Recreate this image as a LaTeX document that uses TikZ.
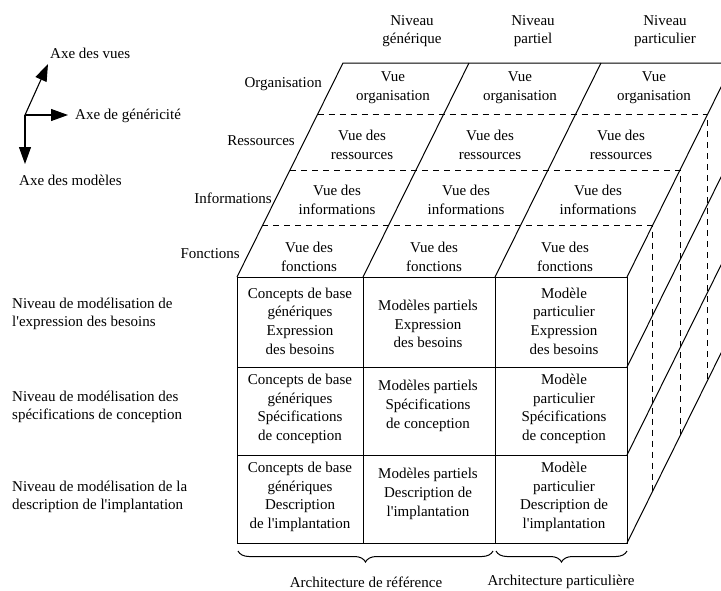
\documentclass[tikz,border=0pt]{standalone}
\usepackage{fontspec}
\setmainfont{Liberation Serif}
\usetikzlibrary{arrows.meta,decorations.pathreplacing}

\begin{document}
\begin{tikzpicture}[x=1pt,y=-1pt,
texte/.style={font=\fontsize{15}{18.7}\selectfont,align=center,inner sep=0pt},
gauche/.style={texte,align=left,anchor=west},
droite/.style={texte,anchor=east},
axe/.style={line width=1.1pt,-{Triangle[length=17pt,width=12pt]}},
trait/.style={line width=1pt},
cache/.style={line width=0.9pt,dash pattern=on 6pt off 5pt},
accolade/.style={line width=1pt,decorate,decoration={brace,mirror,amplitude=11pt}}]

\useasboundingbox (0,0) rectangle (721,590);
\clip (0,0) rectangle (721,590);

% axes
\coordinate (o) at (25,115);
\coordinate (vues) at (48,64);
\coordinate (gen) at (68,115);
\coordinate (mod) at (25,164);
\draw [axe] (o) -- (vues);
\draw [axe] (o) -- (gen);
\draw [axe] (o) -- (mod);
\node (avues) at (50,53) [gauche] {Axe des vues};
\node (agen) at (75,116) [gauche] {Axe de généricité};
\node (amod) at (19,180) [gauche] {Axe des modèles};

% face avant
\coordinate (f1) at (237,277);
\coordinate (f2) at (363,277);
\coordinate (f3) at (495,277);
\coordinate (f4) at (627,277);
\coordinate (l2) at (237,367);
\coordinate (l3) at (237,455);
\coordinate (l4) at (237,543);
\coordinate (r2) at (627,367);
\coordinate (r3) at (627,455);
\coordinate (r4) at (627,543);
\coordinate (m4) at (363,543);
\coordinate (n4) at (495,543);

% face arriere
\coordinate (b1) at (343,63);
\coordinate (b2) at (469,63);
\coordinate (b3) at (601,63);
\coordinate (b4) at (733,63);
\coordinate (s2) at (733,153);
\coordinate (s3) at (733,241);
\coordinate (s4) at (733,329);

\draw [trait] (f1) rectangle (r4);
\draw [trait] (l2) -- (r2);
\draw [trait] (l3) -- (r3);
\draw [trait] (f2) -- (m4);
\draw [trait] (f3) -- (n4);

\draw [trait] (f1) -- (b1) -- (b4) -- (s4) -- (r4);
\draw [trait] (f2) -- (b2);
\draw [trait] (f3) -- (b3);
\draw [trait] (f4) -- (b4);
\draw [trait] (r2) -- (s2);
\draw [trait] (r3) -- (s3);

% niveaux caches
\coordinate (d1) at (262.4,225.6);
\coordinate (e1) at (652.4,225.6);
\coordinate (g1) at (652.4,491.6);
\coordinate (d2) at (290,170);
\coordinate (e2) at (680,170);
\coordinate (g2) at (680,436);
\coordinate (d3) at (317.6,114.4);
\coordinate (e3) at (707.6,114.4);
\coordinate (g3) at (707.6,380.4);
\draw [cache] (d1) -- (e1) -- (g1);
\draw [cache] (d2) -- (e2) -- (g2);
\draw [cache] (d3) -- (e3) -- (g3);

% en-tetes
\node (gene) at (412,31) [texte] {Niveau\\générique};
\node (part) at (533,31) [texte] {Niveau\\partiel};
\node (parc) at (665,31) [texte] {Niveau\\particulier};

\node (org) at (322,84) [droite] {Organisation};
\node (res) at (295,141) [droite] {Ressources};
\node (inf) at (272,198) [droite] {Informations};
\node (fon) at (240,254) [droite] {Fonctions};

% face du dessus
\node (v11) at (393,88) [texte] {Vue\\organisation};
\node (v12) at (520,88) [texte] {Vue\\organisation};
\node (v13) at (654,88) [texte] {Vue\\organisation};
\node (v21) at (362,145) [texte] {Vue des\\ressources};
\node (v22) at (490,145) [texte] {Vue des\\ressources};
\node (v23) at (621,145) [texte] {Vue des\\ressources};
\node (v31) at (337,200) [texte] {Vue des\\informations};
\node (v32) at (466,200) [texte] {Vue des\\informations};
\node (v33) at (598,200) [texte] {Vue des\\informations};
\node (v41) at (309,257) [texte] {Vue des\\fonctions};
\node (v42) at (434,257) [texte] {Vue des\\fonctions};
\node (v43) at (565,257) [texte] {Vue des\\fonctions};

% face avant
\node (c11) at (300,321) [texte] {Concepts de base\\génériques\\Expression\\des besoins};
\node (c12) at (428,324) [texte] {Modèles partiels\\Expression\\des besoins};
\node (c13) at (564,321) [texte] {Modèle\\particulier\\Expression\\des besoins};
\node (c21) at (300,409) [texte] {Concepts de base\\génériques\\Spécifications\\de conception};
\node (c22) at (428,406) [texte] {Modèles partiels\\Spécifications\\de conception};
\node (c23) at (564,409) [texte] {Modèle\\particulier\\Spécifications\\de conception};
\node (c31) at (300,497) [texte] {Concepts de base\\génériques\\Description\\de l\textquotesingle implantation};
\node (c32) at (428,494) [texte] {Modèles partiels\\Description de\\l\textquotesingle implantation};
\node (c33) at (564,497) [texte] {Modèle\\particulier\\Description de\\l\textquotesingle implantation};

% niveaux de modelisation
\node (n1) at (12,314) [gauche] {Niveau de modélisation de\\l\textquotesingle expression des besoins};
\node (n2) at (12,407) [gauche] {Niveau de modélisation des\\spécifications de conception};
\node (n3) at (12,497) [gauche] {Niveau de modélisation de la\\description de l\textquotesingle implantation};

% accolades
\coordinate (a1) at (238,551);
\coordinate (a2) at (493,551);
\coordinate (a3) at (496,551);
\coordinate (a4) at (627,551);
\draw [accolade] (a1) -- (a2);
\draw [accolade] (a3) -- (a4);
\node (ref) at (366,582) [texte] {Architecture de référence};
\node (pcl) at (561,582) [texte] {Architecture particulière};

\end{tikzpicture}
\end{document}
